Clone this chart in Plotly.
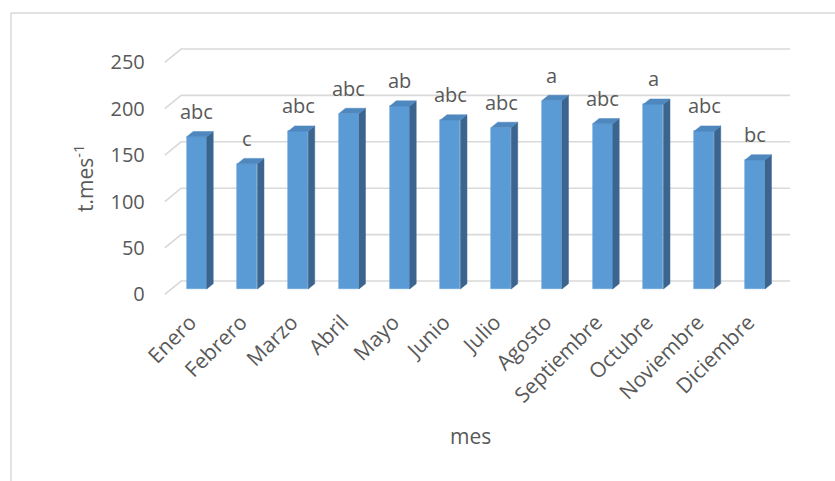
import plotly.graph_objects as go

# Monthly values (t.mes-1) and significance letters
meses = ["Enero", "Febrero", "Marzo", "Abril", "Mayo", "Junio", "Julio",
         "Agosto", "Septiembre", "Octubre", "Noviembre", "Diciembre"]
valores = [164, 135, 170, 189, 197, 182, 174, 203, 178, 199, 170, 139]
letras = ["abc", "c", "abc", "abc", "ab", "abc", "abc", "a", "abc", "a", "abc", "bc"]
y_ticks = [0, 50, 100, 150, 200, 250]

W, H = 835, 481
FONT = "Open Sans"
TXT = "#595959"
GRID = "#d9d9d9"
FRONT = "#5b9bd5"
TOP = "#4f87bf"
SIDE = "#3b658f"

# Pixel scale of the bar plane
KX = 50.75          # px per category
KY = 0.928          # px per unit
X0_PX, Y0_PX = 196.7, 289.0   # pixel position of (category 0, value 0)

# Oblique 3D projection: depth d in [0, 1], bars' front face lies at d = D_BAR
DX = 16.3 / KX      # horizontal shift of full depth, in categories
DY = 13.3 / KY      # vertical shift of full depth, in value units
D_BAR, D_BACK = 0.4, 0.8
HALF_W = 0.197      # half bar width in categories


def proj(c, v, d):
    return c + (d - D_BAR) * DX, v + (d - D_BAR) * DY


n = len(meses)
cats = list(range(n))
x_lo, x_hi = -0.5, n - 0.5

fig = go.Figure()

# Back-wall gridlines plus the diagonal floor/side lines toward the value labels
for v in y_ticks:
    pts = [proj(x_lo, v, 0.0), proj(x_lo, v, 1.0), proj(x_hi, v, 1.0)]
    path = "M " + " L ".join(f"{px},{py}" for px, py in pts)
    fig.add_shape(type="path", xref="x", yref="y", path=path, layer="below",
                  line=dict(color=GRID, width=1.6))

# Top and side faces of each column
tx, ty, sx, sy = [], [], [], []
for c, v in zip(cats, valores):
    for cc, vv, dd in [(c - HALF_W, v, D_BAR), (c + HALF_W, v, D_BAR),
                       (c + HALF_W, v, D_BACK), (c - HALF_W, v, D_BACK),
                       (c - HALF_W, v, D_BAR)]:
        px, py = proj(cc, vv, dd)
        tx.append(px)
        ty.append(py)
    tx.append(None)
    ty.append(None)
    for cc, vv, dd in [(c + HALF_W, 0, D_BAR), (c + HALF_W, v, D_BAR),
                       (c + HALF_W, v, D_BACK), (c + HALF_W, 0, D_BACK),
                       (c + HALF_W, 0, D_BAR)]:
        px, py = proj(cc, vv, dd)
        sx.append(px)
        sy.append(py)
    sx.append(None)
    sy.append(None)
fig.add_trace(go.Scatter(x=sx, y=sy, mode="lines", fill="toself", fillcolor=SIDE,
                         line=dict(color=SIDE, width=0.5), hoverinfo="skip", showlegend=False))
fig.add_trace(go.Scatter(x=tx, y=ty, mode="lines", fill="toself", fillcolor=TOP,
                         line=dict(color=TOP, width=0.5), hoverinfo="skip", showlegend=False))

# Front faces of the columns
fig.add_trace(go.Bar(x=cats, y=valores, width=2 * HALF_W,
                     marker=dict(color=FRONT, line=dict(color="#6aa6dc", width=0.6)),
                     showlegend=False, hoverinfo="skip"))

# Dummy trace carrying the front-plane axes (month and value labels)
fig.add_trace(go.Scatter(x=[0], y=[0], xaxis="x2", yaxis="y2", mode="markers",
                         marker=dict(opacity=0), showlegend=False, hoverinfo="skip"))

# Significance letters above the columns
for c, v, t in zip(cats, valores, letras):
    fig.add_annotation(x=c, y=v, text=t, showarrow=False, yanchor="bottom",
                       yshift=10, font=dict(family=FONT, size=20, color=TXT))

x_range = [-X0_PX / KX, (W - X0_PX) / KX]
y_range = [-(H - Y0_PX) / KY, Y0_PX / KY]
front_dx = -D_BAR * DX
front_dy = -D_BAR * DY
front_corner_px = X0_PX + KX * (x_lo + front_dx)

fig.update_layout(
    width=W, height=H,
    margin=dict(l=0, r=0, t=0, b=0),
    paper_bgcolor="white", plot_bgcolor="white",
    font=dict(family=FONT, color=TXT, size=20),
    xaxis=dict(range=x_range, domain=[0, 1], showgrid=False, zeroline=False,
               showticklabels=False, ticks=""),
    yaxis=dict(range=y_range, domain=[0, 1], showgrid=False, zeroline=False,
               showticklabels=False, ticks=""),
    xaxis2=dict(range=[x_range[0] - front_dx, x_range[1] - front_dx],
                overlaying="x", anchor="free", position=1 - 305 / H,
                tickmode="array", tickvals=cats, ticktext=meses, tickangle=-45,
                showgrid=False, zeroline=False, showline=False, ticks="",
                tickfont=dict(family=FONT, size=21, color=TXT)),
    yaxis2=dict(range=[y_range[0] - front_dy, y_range[1] - front_dy],
                overlaying="y", anchor="free", position=front_corner_px / W, side="left",
                tickmode="array", tickvals=y_ticks, showgrid=False, zeroline=False,
                showline=False, ticks="", ticklabelstandoff=20,
                tickfont=dict(family=FONT, size=20, color=TXT)),
    bargap=0,
)

# Axis titles
fig.add_annotation(xref="paper", yref="paper", x=470 / W, y=1 - 436 / H, text="mes",
                   xanchor="center", yanchor="middle", showarrow=False,
                   font=dict(family=FONT, size=21, color=TXT))
fig.add_annotation(xref="paper", yref="paper", x=83 / W, y=1 - 179 / H,
                   text="t.mes<sup>-1</sup>", textangle=-90, xanchor="center",
                   yanchor="middle", showarrow=False,
                   font=dict(family=FONT, size=21, color=TXT))

# Chart-area border (top and left edges)
fig.add_shape(type="line", xref="paper", yref="paper", x0=11 / W, x1=11 / W,
              y0=0, y1=1 - 13 / H, line=dict(color=GRID, width=1.5))
fig.add_shape(type="line", xref="paper", yref="paper", x0=11 / W, x1=1,
              y0=1 - 13 / H, y1=1 - 13 / H, line=dict(color=GRID, width=1.5))

fig.write_html("out.html")
